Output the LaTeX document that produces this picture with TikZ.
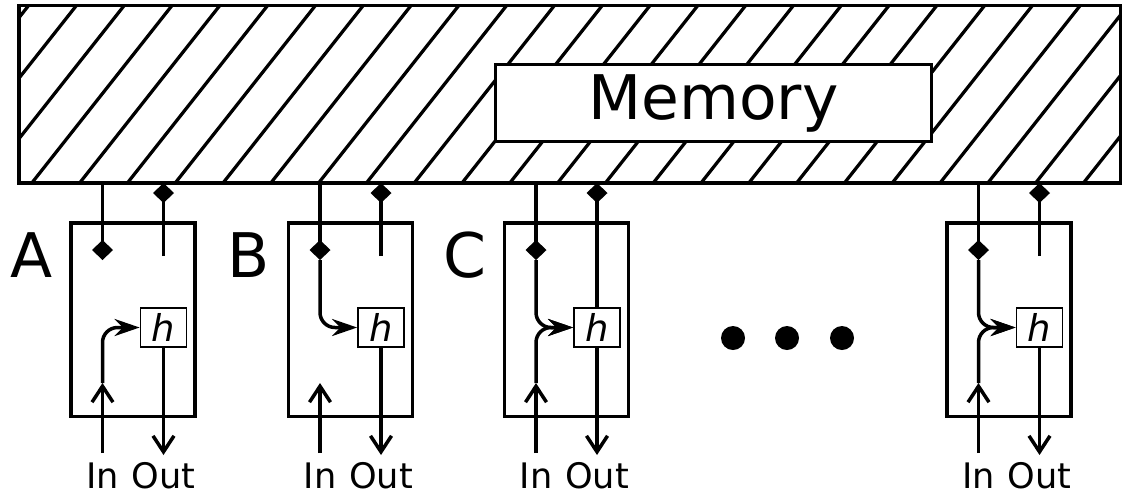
\documentclass[tikz,border=0pt]{standalone}
\usepackage{fontspec}
\setmainfont{DejaVu Sans}
\usepackage{tikz}
\usetikzlibrary{arrows.meta,positioning,calc}
\tikzset{
  storebox/.style={draw, line width=0.07cm, inner sep=0, outer sep=0,
    minimum width=22.03cm, minimum height=3.55cm},
  hatchln/.style={line width=0.065cm},
  memlabel/.style={draw, fill=white, line width=0.065cm, inner sep=0,
    minimum width=8.72cm, minimum height=1.54cm, font=\fontsize{35}{40}\selectfont},
  cellbox/.style={draw, line width=0.07cm, inner sep=0,
    minimum width=2.48cm, minimum height=3.87cm},
  hbox/.style={draw, fill=white, line width=0.035cm, inner sep=0,
    minimum width=0.92cm, minimum height=0.78cm, font=\fontsize{21}{24}\selectfont\itshape},
  celltag/.style={anchor=base west, inner sep=0, font=\fontsize{35}{40}\selectfont},
  iotext/.style={anchor=base, inner sep=0, font=\fontsize{20}{22}\selectfont},
  wire/.style={line width=0.07cm},
  readln/.style={wire, -{Diamond[length=0.4cm,width=0.42cm]}},
  ioarr/.style={wire, -{Straight Barb[length=0.32cm,width=0.42cm]}},
  feedln/.style={wire, rounded corners=0.3cm, -{Stealth[length=0.5cm,width=0.34cm]}},
}
% one cell: box, h, In/Out texts and the wire ends
\newcommand{\cellunit}[2]{%
  \node[cellbox] (c#1) at (#2+62,319.5) {};
  \node[hbox] (h#1) at (#2+92.5,327.5) {h};
  \coordinate (rd#1) at (#2+31.5,260);
  \coordinate (wr#1) at (#2+92.5,256);
  \coordinate (up#1) at (#2+31.5,383);
  \coordinate (bot#1) at (#2+31.5,453);
  \coordinate (dn#1) at (#2+92.5,455);
  \node[iotext] (in#1) at (#2+31.5,488) {In};
  \node[iotext] (out#1) at (#2+92.5,488) {Out};
  \draw[ioarr] (bot#1) -- (up#1);
  \draw[ioarr] (h#1.south) -- (dn#1);
}

\begin{document}
\begin{tikzpicture}[x=0.2mm,y=-0.2mm]
    \useasboundingbox (0,0) rectangle (1122,495);
    % Memory bank
    \node[storebox] (store) at (569.75,94.25) {};
    \begin{scope}
      \clip (store.south west) rectangle (store.north east);
      \foreach \k in {-3,...,23}
        \draw[hatchln] ({31.7+47.8*\k-24},213.5) -- ({31.7+47.8*\k+164},-24.5);
    \end{scope}
    \node[memlabel] (mem) at (713.5,103.3) {Memory};
    % Cells
    \cellunit{A}{71}
    \cellunit{B}{288.5}
    \cellunit{C}{504.5}
    \cellunit{D}{947}
    \node[celltag] (tagA) at (10,277) {A};
    \node[celltag] (tagB) at (227.5,277) {B};
    \node[celltag] (tagC) at (443.5,277) {C};
    % Reads from memory
    \draw[readln] (store.south -| rdA) -- (rdA);
    \draw[readln] (store.south -| rdB) -- (rdB);
    \draw[readln] (store.south -| rdC) -- (rdC);
    \draw[readln] (store.south -| rdD) -- (rdD);
    % Writes to memory
    \draw[readln] (wrA) -- (wrA |- store.south);
    \draw[readln] (wrB) -- (wrB |- store.south);
    \draw[readln] (hC.north) -- (hC.north |- store.south);
    \draw[readln] (wrD) -- (wrD |- store.south);
    % Into h
    \draw[feedln] (upA) |- (hA.west);
    \draw[feedln] (rdB) |- (hB.west);
    \draw[feedln] (rdC) |- (hC.west);
    \draw[feedln] (upC) |- (hC.west);
    \draw[feedln] (rdD) |- (hD.west);
    \draw[feedln] (upD) |- (hD.west);
    % Further cells
    \fill (733,338) circle (0.24cm);
    \fill (787,338) circle (0.24cm);
    \fill (842,338) circle (0.24cm);
  \end{tikzpicture}
\end{document}
